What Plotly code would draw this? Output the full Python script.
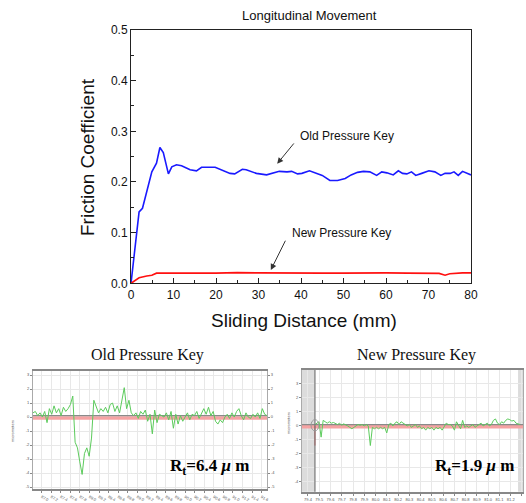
import plotly.graph_objects as go
import numpy as np

W, H = 526, 503

# ---------------- top chart data ----------------
old_x = [0, 1.9, 2.7, 4.9, 6.0, 6.8, 7.6, 8.3, 8.8, 9.6, 10.7, 11.9, 13.9, 15.4, 16.6, 19.8,
         21.6, 23.3, 24.4, 26.2, 27.1, 29.5, 31.9, 33.5, 34.9, 36.7, 37.8, 39.2, 40.2, 42.0,
         43.6, 45.0, 46.8, 48.6, 50.4, 51.8, 53.3, 54.7, 56.2, 57.8, 59.0, 60.2, 61.7, 62.9,
         63.9, 64.9, 66.0, 67.0, 68.4, 70.1, 71.5, 72.9, 73.9, 75.1, 76.0, 77.0, 78.0, 79.0, 80.0]
old_y = [0.0, 0.141, 0.148, 0.22, 0.237, 0.268, 0.258, 0.233, 0.216, 0.23, 0.234, 0.232, 0.224,
         0.222, 0.229, 0.229, 0.222, 0.217, 0.216, 0.225, 0.224, 0.217, 0.214, 0.218, 0.221,
         0.22, 0.221, 0.216, 0.217, 0.222, 0.217, 0.213, 0.203, 0.203, 0.207, 0.214, 0.219,
         0.221, 0.22, 0.213, 0.22, 0.218, 0.214, 0.222, 0.217, 0.216, 0.22, 0.213, 0.217,
         0.222, 0.22, 0.213, 0.217, 0.217, 0.22, 0.213, 0.221, 0.217, 0.214]

new_x = [0, 1.9, 3.7, 4.9, 6.0, 10, 15, 20, 25, 30, 35, 40, 45, 50, 55, 60, 65, 70, 72.5, 73.9, 75, 78, 80]
new_y = [0.0, 0.011, 0.0145, 0.016, 0.02, 0.0205, 0.02, 0.02, 0.021, 0.0205, 0.02, 0.0205, 0.02,
         0.02, 0.0205, 0.0205, 0.02, 0.02, 0.0195, 0.016, 0.019, 0.0205, 0.0205]

# ---------------- bottom-left profile (old key) ----------------
old_profile = [0.3, 0.4, 0.1, 0.3, 0.0, 0.4, -0.4, 0.6, 0.2, 0.8, 0.3, 0.6, 0.1, 0.7, 0.4, 0.6,
               0.9, 1.5, -1.8, -2.2, -3.2, -4.1, -2.6, -2.2, -2.8, -1.5, 1.2, 0.8, 0.3, 0.6,
               0.4, 0.7, 0.3, 0.9, 1.0, 0.4, 0.8, 0.3, 1.1, 2.1, 0.6, 1.2, 0.3, 0.1, 0.3, -0.1,
               0.4, 0.2, 0.5, -0.3, 0.2, -1.2, 0.5, -0.4, 0.2, 0.1, 0.0, 0.3, -0.2, 0.4, -0.8,
               0.2, -0.5, 0.1, -0.3, 0.0, 0.3, -0.2, 0.2, 0.1, 0.4, -0.1, 0.3, 0.6, 0.2, 0.7,
               0.1, 0.4, -0.3, -0.5, -0.2, -0.4, 0.0, 0.2, -0.1, 0.3, 0.0, 0.4, 0.6, 0.1, -0.2,
               0.3, 0.0, -0.1, 0.2, 0.0, 0.3, -0.1, 0.6, 0.2, 0.1]
old_ticks = [87.0, 87.2, 87.4, 87.6, 87.8, 88.0, 88.2, 88.4, 88.6, 88.8, 89.0, 89.2, 89.4, 89.6,
             89.8, 90.0, 90.2, 90.4, 90.6, 90.8, 91.0, 91.2, 91.4, 91.6]

# ---------------- bottom-right profile (new key) ----------------
new_profile = [0.1, 0.2, 0.3, -0.8, 0.4, 0.3, 0.2, 0.3, 0.2, 0.25, 0.15, 0.1, 0.2, 0.05, 0.15,
               0.1, 0.0, -0.1, -0.2, -0.1, 0.0, 0.1, 0.05, 0.1, 0.0, 0.1, 0.0, -1.4, -0.1,
               -0.2, -0.1, -0.2, -0.1, -0.2, -0.1, -0.5, 0.1, 0.2, 0.0, 0.2, 0.3, 0.1, 0.3,
               0.2, 0.1, 0.0, 0.1, -0.1, 0.0, 0.1, -0.1, 0.0, -0.2, -0.1, -0.3, -0.1, -0.2,
               -0.1, -0.3, -0.1, -0.2, -0.1, -0.3, 0.0, 0.2, 0.1, 0.1, 0.0, -0.3, 0.3, 0.0,
               -0.2, 0.4, -0.1, 0.0, -0.1, 0.0, 0.1, -0.1, 0.0, 0.1, 0.2, 0.0, 0.1, 0.2, 0.0,
               0.1, 0.4, 0.5, 0.2, 0.1, 0.3, 0.2, 0.4, 0.5, 0.45, 0.35, 0.4, 0.2, 0.15, 0.1]
new_ticks = [79.4, 79.5, 79.6, 79.7, 79.8, 79.9, 80.0, 80.1, 80.2, 80.3, 80.4, 80.5, 80.6, 80.7,
             80.8, 80.9, 81.0, 81.1, 81.2, 81.3]
red_spike_y = [0.0, -1.4]

Y_TICKS_OLD = [3, 2, 1, 0, -1, -2, -3, -4, -5]
Y_TICKS_NEW = [3, 2, 1, 0, -1, -2, -3, -4]


def px(x):
    return x / W


def py(y):
    return 1 - y / H


# axis ranges of the bottom panels
L_RANGE = [86.818, 91.713]
R_RANGE = [79.347, 81.309]
R_START, R_END = 79.462, 81.283

fig = go.Figure()

# top chart traces
fig.add_trace(go.Scatter(x=old_x, y=old_y, mode="lines", line=dict(color="#1a1aff", width=1.6),
                         xaxis="x", yaxis="y", showlegend=False))
fig.add_trace(go.Scatter(x=new_x, y=new_y, mode="lines", line=dict(color="#ff1010", width=1.6),
                         xaxis="x", yaxis="y", showlegend=False))

# bottom-left
lx = np.linspace(L_RANGE[0], L_RANGE[1], len(old_profile))
fig.add_trace(go.Scatter(x=L_RANGE, y=[-0.06, -0.06], mode="lines",
                         line=dict(color="#f5a3a3", width=3.5), xaxis="x2", yaxis="y2", showlegend=False))
fig.add_trace(go.Scatter(x=L_RANGE, y=[0.1, 0.1], mode="lines",
                         line=dict(color="#8a8a8a", width=1.2), xaxis="x2", yaxis="y2", showlegend=False))
fig.add_trace(go.Scatter(x=lx, y=old_profile, mode="lines", line=dict(color="#5ccb5c", width=1),
                         xaxis="x2", yaxis="y2", showlegend=False))
fig.add_trace(go.Scatter(x=L_RANGE, y=[0, 0], mode="lines", line=dict(width=0), opacity=0,
                         xaxis="x2", yaxis="y4", showlegend=False, hoverinfo="skip"))

# bottom-right
rx = np.linspace(R_START, R_END, len(new_profile))
fig.add_trace(go.Scatter(x=R_RANGE, y=[-0.06, -0.06], mode="lines",
                         line=dict(color="#f5a3a3", width=3.5), xaxis="x3", yaxis="y3", showlegend=False))
fig.add_trace(go.Scatter(x=R_RANGE, y=[0.1, 0.1], mode="lines",
                         line=dict(color="#8a8a8a", width=1.2), xaxis="x3", yaxis="y3", showlegend=False))
fig.add_trace(go.Scatter(x=[R_START, R_START], y=red_spike_y, mode="lines",
                         line=dict(color="#e05050", width=1), xaxis="x3", yaxis="y3", showlegend=False))
fig.add_trace(go.Scatter(x=rx, y=new_profile, mode="lines", line=dict(color="#5ccb5c", width=1),
                         xaxis="x3", yaxis="y3", showlegend=False))

tickfont = dict(family="Liberation Sans, Arial", size=12, color="#111")
tiny = dict(family="Liberation Sans, Arial", size=4, color="#555")

fig.update_layout(
    width=W, height=H, margin=dict(l=0, r=0, t=0, b=0, autoexpand=False),
    paper_bgcolor="white", plot_bgcolor="white", hovermode=False,
    xaxis=dict(domain=[px(131), px(471)], range=[0, 80], anchor="y", automargin=False,
               showline=True, linecolor="#222", linewidth=1, mirror=True,
               ticks="inside", ticklen=5, tickcolor="#222", dtick=10, tick0=0,
               minor=dict(ticks="inside", ticklen=3, dtick=5, tickcolor="#222"),
               showgrid=False, zeroline=False, tickfont=tickfont),
    yaxis=dict(domain=[py(283.3), py(30)], range=[0, 0.5], anchor="x", automargin=False,
               showline=True, linecolor="#222", linewidth=1, mirror=True,
               ticks="inside", ticklen=5, tickcolor="#222", dtick=0.1, tickformat=".1f",
               minor=dict(ticks="inside", ticklen=3, dtick=0.05, tickcolor="#222"),
               showgrid=False, zeroline=False, tickfont=tickfont),
    xaxis2=dict(domain=[px(33), px(267)], range=L_RANGE, anchor="y2", automargin=False,
                showline=True, linecolor="#888", linewidth=2, mirror=True,
                ticks="outside", ticklen=2, tickcolor="#888",
                tickvals=old_ticks, ticktext=[f"{v:.1f}" for v in old_ticks],
                showgrid=True, gridcolor="#e8e8e8", gridwidth=1, zeroline=False, tickfont=tiny),
    yaxis2=dict(domain=[py(489), py(371)], range=[-5.14, 3.29], anchor="x2", automargin=False,
                showline=True, linecolor="#aaa", linewidth=1, mirror=True,
                ticks="outside", ticklen=2, tickcolor="#888",
                tickvals=Y_TICKS_OLD, ticktext=[str(v) for v in Y_TICKS_OLD],
                showgrid=True, gridcolor="#e8e8e8", zeroline=False, tickfont=tiny),
    yaxis4=dict(domain=[py(489), py(371)], range=[-5.14, 3.29], anchor="x2", overlaying="y2",
                automargin=False,
                side="right", showline=False, ticks="outside", ticklen=2, tickcolor="#888",
                tickvals=Y_TICKS_OLD, ticktext=[str(v) for v in Y_TICKS_OLD],
                showgrid=False, zeroline=False, tickfont=tiny),
    xaxis3=dict(domain=[px(302), px(523)], range=R_RANGE, anchor="y3", automargin=False,
                showline=True, linecolor="#888", linewidth=2, mirror=True,
                ticks="outside", ticklen=2, tickcolor="#888",
                tickvals=new_ticks, ticktext=[f"{v:.1f}" for v in new_ticks],
                showgrid=True, gridcolor="#e8e8e8", zeroline=False, tickfont=tiny),
    yaxis3=dict(domain=[py(491.7), py(370)], range=[-4.7, 4.0], anchor="x3", automargin=False,
                showline=True, linecolor="#aaa", linewidth=1, mirror=True,
                ticks="outside", ticklen=2, tickcolor="#888",
                tickvals=Y_TICKS_NEW, ticktext=[str(v) for v in Y_TICKS_NEW],
                showgrid=True, gridcolor="#e8e8e8", zeroline=False, tickfont=tiny),
)

shapes = [
    dict(type="rect", xref="x3", yref="y3 domain", x0=R_RANGE[0], x1=R_START, y0=0, y1=1,
         fillcolor="#dcdcdc", line=dict(width=0), layer="below"),
    dict(type="rect", xref="x3", yref="y3 domain", x0=81.265, x1=R_RANGE[1], y0=0, y1=1,
         fillcolor="#dcdcdc", line=dict(width=0), layer="below"),
    dict(type="line", xref="x3", yref="y3 domain", x0=R_START, x1=R_START, y0=0, y1=1,
         line=dict(color="#777", width=1.2)),
    dict(type="circle", xref="x3", yref="y3", x0=R_START - 0.035, x1=R_START + 0.035,
         y0=-0.35, y1=0.45, line=dict(color="#999", width=1)),
]
fig.update_layout(shapes=shapes)


def paper_text(text, xp, yp, font, angle=0):
    return dict(text=text, x=px(xp), y=py(yp), xref="paper", yref="paper",
                xanchor="center", yanchor="middle", showarrow=False,
                textangle=angle, font=font)


sans = "Liberation Sans, Arial"
serif = "Liberation Serif, Times New Roman"
ann = []
# top chart title & axis titles
ann.append(paper_text("Longitudinal Movement", 309, 15, dict(family=sans, size=13, color="#111")))
ann.append(paper_text("Friction Coefficient", 87, 157, dict(family=sans, size=19, color="#111"), -90))
ann.append(paper_text("Sliding Distance (mm)", 304, 320, dict(family=sans, size=19, color="#111")))
# curve labels with arrows
ann.append(dict(text="Old Pressure Key", x=50.8, y=0.291, xref="x", yref="y", showarrow=False,
                xanchor="center", yanchor="middle",
                font=dict(family=sans, size=12, color="#111")))
ann.append(dict(text="", x=34.4, y=0.236, ax=38.6, ay=0.279, xref="x", yref="y",
                axref="x", ayref="y", showarrow=True, arrowhead=2, arrowsize=1.2,
                arrowwidth=1, arrowcolor="#333"))
ann.append(dict(text="New Pressure Key", x=49.5, y=0.1, xref="x", yref="y", showarrow=False,
                xanchor="center", yanchor="middle",
                font=dict(family=sans, size=12, color="#111")))
ann.append(dict(text="", x=32.9, y=0.0263, ax=36.5, ay=0.087, xref="x", yref="y",
                axref="x", ayref="y", showarrow=True, arrowhead=2, arrowsize=1.2,
                arrowwidth=1, arrowcolor="#333"))
# bottom panel titles
ann.append(paper_text("Old Pressure Key", 147, 355, dict(family=serif, size=16, color="#111")))
ann.append(paper_text("New Pressure Key", 416, 355, dict(family=serif, size=16, color="#111")))
# Rt labels
ann.append(paper_text("<b>R<sub>t</sub>=6.4 <i>μ</i> m</b>", 209, 467,
                      dict(family=serif, size=17, color="#000")))
ann.append(paper_text("<b>R<sub>t</sub>=1.9 <i>μ</i> m</b>", 474, 467,
                      dict(family=serif, size=17, color="#000")))
# tiny rotated unit labels
ann.append(paper_text("micrometers", 12, 431, tiny, -90))
ann.append(paper_text("micrometers", 288, 423, tiny, -90))
fig.update_layout(annotations=ann)

fig.write_html("out.html", config={"displayModeBar": False, "staticPlot": True},
               post_script="document.body.style.margin='0';document.body.style.overflow='hidden';")
